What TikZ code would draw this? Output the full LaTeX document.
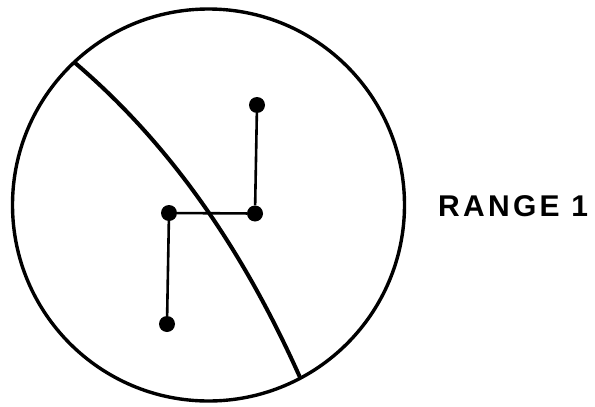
\documentclass[tikz,border=0pt]{standalone}
\usepackage{fontspec}
\newfontfamily\labelfont[LetterSpace=11]{Liberation Sans Bold}
\begin{document}
\begin{tikzpicture}[x=1pt,y=-1pt,
  dot/.style={circle,fill=black,inner sep=0pt,minimum size=16pt},
  ring/.style={line width=3.4pt},
  boundary/.style={line width=4pt},
  link/.style={line width=2.6pt},
  lbl/.style={font=\labelfont\fontsize{30}{34}\selectfont,inner sep=0pt}]
\useasboundingbox (0,0) rectangle (595,407);
\node[circle,draw,ring,minimum size=392pt,inner sep=0pt] (disk) at (208.5,205) {};
\coordinate (bs) at (74,62);
\coordinate (be) at (300.5,378.5);
\draw[boundary] (bs) .. controls (166.7,140.7) and (241,245) .. (be);
\node[dot] (p1) at (257,105) {};
\node[dot] (p2) at (255,213.5) {};
\node[dot] (p3) at (169,213) {};
\node[dot] (p4) at (167,324) {};
\draw[link] (p1) -- (p2) -- (p3) -- (p4);
\node[lbl,anchor=west] (range) at (438,206) {RANGE 1};
\end{tikzpicture}
\end{document}
